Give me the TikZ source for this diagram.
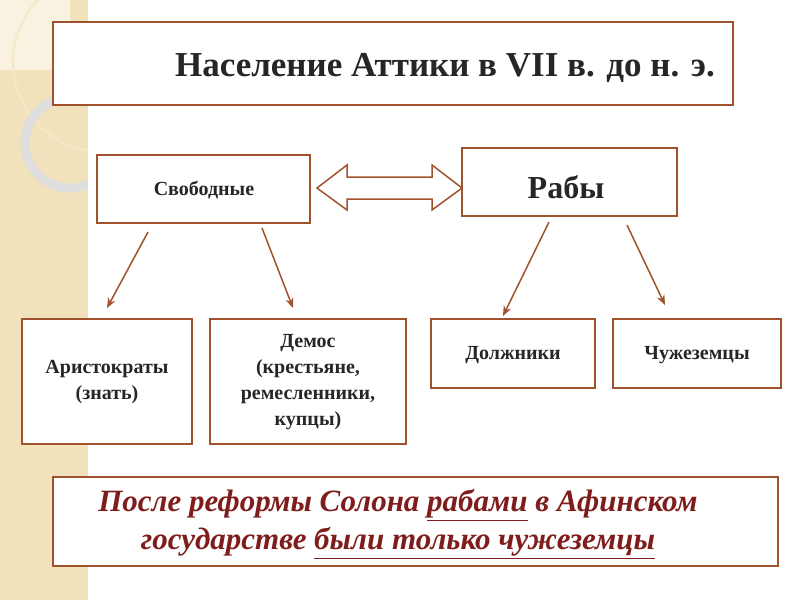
\documentclass[tikz,border=0pt]{standalone}
\usepackage{fontspec}
\setmainfont{Liberation Serif}
\usetikzlibrary{arrows.meta}
\definecolor{brd}{HTML}{A0522D}
\definecolor{beige}{HTML}{F1E2BC}
\definecolor{txtred}{HTML}{7F1D1D}
\begin{document}
\begin{tikzpicture}[x=1pt,y=-1pt,
  box/.style={draw=brd,line width=1.6pt,fill=white,inner sep=0pt},
  lbl/.style={font=\bfseries\fontsize{20}{26}\selectfont,align=center,text=black!85},
  arr/.style={draw=brd,line width=1.5pt,-{Stealth[length=10pt,width=8pt]}}]
\useasboundingbox (0,0) rectangle (800,600);
\fill[beige] (0,0) rectangle (88,600);
\begin{scope}
\clip (0,0) rectangle (88,600);
\fill[white!55!beige] (0,0) rectangle (70,70);
\draw[white!20!beige,line width=2pt] (103,62) circle (90);
\draw[black!13,line width=9pt] (70,143) circle (45);
\end{scope}
\node[box,minimum width=680pt,minimum height=83pt] (title) at (393,63.5) {};
\node[font=\bfseries\fontsize{35}{40}\selectfont,text=black!85] (tt) at (445,68) {Население Аттики в VII в. до н. э.};
\node[box,minimum width=213pt,minimum height=68pt] (free) at (203.5,189) {};
\node[lbl] (freet) at (204,190) {Свободные};
\node[box,minimum width=215pt,minimum height=68pt] (slave) at (569.5,182) {};
\node[font=\bfseries\fontsize{32}{36}\selectfont,text=black!85] (slavet) at (566,187) {Рабы};
\draw[brd,line width=1.5pt,fill=white,line join=miter]
  (317,188) -- (347,165) -- (347,177) -- (432,177) -- (432,165) -- (462,188)
  -- (432,210) -- (432,199) -- (347,199) -- (347,210) -- cycle;
\node[box,minimum width=170pt,minimum height=125pt] (arist) at (107,381.5) {};
\node[lbl] at (107,382) {Аристократы\\(знать)};
\node[box,minimum width=196pt,minimum height=125pt] (demos) at (308,381.5) {};
\node[lbl] at (308,382) {Демос\\(крестьяне,\\ремесленники,\\купцы)};
\node[box,minimum width=164pt,minimum height=69pt] (debt) at (513,353.5) {};
\node[lbl] at (513,355) {Должники};
\node[box,minimum width=168pt,minimum height=69pt] (forn) at (697,353.5) {};
\node[lbl] at (697,355) {Чужеземцы};
\coordinate (a1) at (148,232); \coordinate (a2) at (262,228);
\coordinate (b1) at (549,222); \coordinate (b2) at (627,225);
\coordinate (e1) at (107,308); \coordinate (e2) at (293,308);
\coordinate (e3) at (503,316); \coordinate (e4) at (665,305);
\draw[arr] (a1) -- (e1);
\draw[arr] (a2) -- (e2);
\draw[arr] (b1) -- (e3);
\draw[arr] (b2) -- (e4);
\node[box,minimum width=725pt,minimum height=89pt] (bottom) at (415.5,521.5) {};
\node[font=\bfseries\itshape\fontsize{31}{38}\selectfont,text=txtred,align=center] at (398,524)
 {После реформы Солона \underline{рабами} в Афинском\\государстве \underline{были только чужеземцы}};
\end{tikzpicture}
\end{document}
